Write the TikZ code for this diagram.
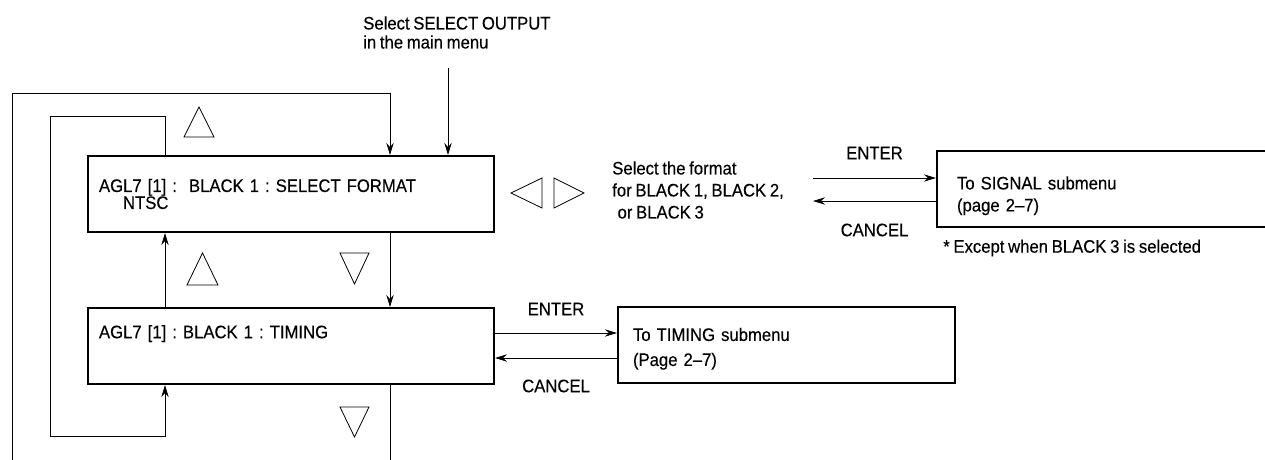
\documentclass[tikz,border=0pt]{standalone}
\usepackage{fontspec}
\setmainfont[FakeStretch=0.92, WordSpace=0.8, FakeBold=0.3]{Liberation Sans}
\usetikzlibrary{arrows.meta, positioning, calc}
\frenchspacing

\begin{document}
\begin{tikzpicture}[
    x=0.75pt, y=-0.75pt,
    >={Stealth[length=9pt, width=5.5pt]},
    font=\fontsize{13.6}{16.5}\selectfont,
    menubox/.style={draw, line width=1.5pt, minimum width=304.5pt, minimum height=57pt,
                    inner xsep=8.25pt, text width=288pt, align=left},
    subbox/.style={draw, line width=1.5pt, minimum height=57pt, align=left},
    link/.style={->, line width=0.75pt},
    wire/.style={line width=0.75pt},
    keytri/.style={line width=0.6pt, line join=miter},
    note/.style={inner sep=0pt, align=left},
    keylbl/.style={inner sep=0pt},
]
\useasboundingbox (0,0) rectangle (1265,460);

% --- Menu boxes ---
\node[menubox, font=\fontsize{13.6}{12.75}\selectfont] (fmtbox) at (291,194)
    {AGL7 [1] :\ \ BLACK 1 : SELECT FORMAT\\\hspace*{18pt}NTSC};
\node[menubox] (timbox) at (291,346)
    {AGL7 [1] : BLACK 1 : TIMING\\[5pt]\mbox{}};

% --- Submenu boxes ---
\node[subbox, minimum width=248.25pt, inner xsep=15pt, text width=218.25pt] (sigsub) at (1102.5,189)
    {\rule{0pt}{20pt}To SIGNAL submenu\\(page 2--7)};
\node[subbox, minimum width=252.75pt, inner xsep=11.25pt, text width=230.25pt] (timsub) at (786.5,345)
    {\rule{0pt}{15.5pt}To TIMING submenu\\[2.25pt](Page 2--7)};

% --- Notes ---
\node[note, anchor=west] (selout) at (363,32.5)
    {Select SELECT OUTPUT\\[-2.25pt]in the main menu};
\node[note, anchor=west] (fmtnote) at (612,190)
    {Select the format\\for BLACK 1, BLACK 2,\\\hspace*{4pt}or BLACK 3};
\node[note, anchor=west] (except) at (943,248) {* Except when BLACK 3 is selected};

% --- Key symbols ---
\draw[keytri] (184,137) -- (214,137) -- (199,107) -- cycle;
\draw[keytri] (187,285) -- (218,285) -- (202.5,253) -- cycle;
\draw[keytri] (340,253) -- (369,253) -- (354.5,284) -- cycle;
\draw[keytri] (340,407) -- (369,407) -- (354.5,437) -- cycle;
\draw[keytri] (542,178) -- (542,208) -- (511,193) -- cycle;
\draw[keytri] (554,178) -- (554,208) -- (584,193) -- cycle;

% ============================================================
% Loops between the menu items
% ============================================================
\coordinate (outerbot) at (12,462);
\coordinate (loopA) at (390,94);
\coordinate (loopB) at (165,117);
\coordinate (loopC) at (50,436);
\coordinate (selin) at (448,68);

\draw[link] (selin) -- (selin |- fmtbox.north);
\draw[link] (outerbot) |- (loopA) -- (loopA |- fmtbox.north);
\draw[link] (loopB |- fmtbox.north) -- (loopB) -| (loopC) -| (loopB |- timbox.south);
\draw[link] (loopA |- fmtbox.south) -- (loopA |- timbox.north);
\draw[link] (loopB |- timbox.north) -- (loopB |- fmtbox.south);
\draw[wire] (loopA |- timbox.south) -- (loopA |- outerbot);

% ============================================================
% ENTER / CANCEL
% ============================================================
\coordinate (selR) at (813,178);
\coordinate (selL) at (813,201);

\draw[link] (selR) -- node[keylbl, yshift=18.75pt] {ENTER} (selR -| sigsub.west);
\draw[link] (sigsub.west |- selL) -- node[keylbl, yshift=-21.75pt] {CANCEL} (selL);

\draw[link] (timbox.east |- 0,333) -- node[keylbl, yshift=18pt] {ENTER} (timsub.west |- 0,333);
\draw[link] (timsub.west |- 0,358) -- node[keylbl, yshift=-21pt] {CANCEL} (timbox.east |- 0,358);

\end{tikzpicture}
\end{document}
